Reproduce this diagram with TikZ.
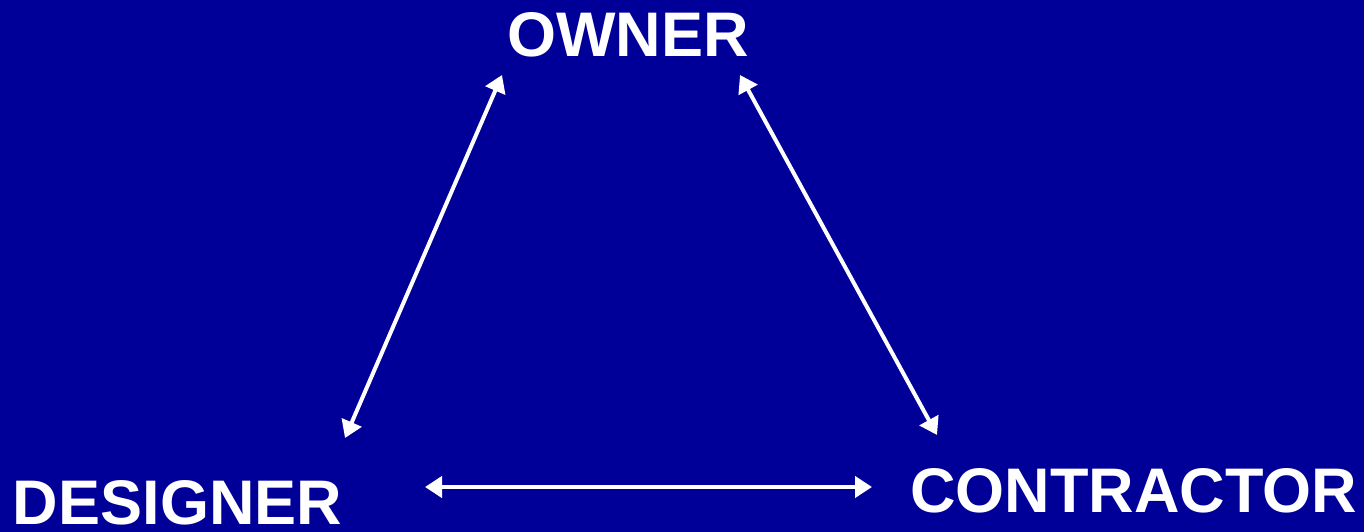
\documentclass[tikz,border=0pt]{standalone}
\usepackage{fontspec}
\setmainfont{Liberation Sans}
\usetikzlibrary{arrows.meta}
\definecolor{slideblue}{RGB}{0,0,153}

\begin{document}
\begin{tikzpicture}[x=1pt,y=-1pt,
  party/.style={white,font=\bfseries\fontsize{63}{63}\selectfont,
    inner sep=0pt,anchor=base},
  link/.style={white,line width=4pt,
    {Triangle[length=17pt,width=21pt]}-{Triangle[length=17pt,width=21pt]}}]
  % slide background, fixes the page size
  \fill[slideblue] (0,0) rectangle (1364,532);
  \useasboundingbox (0,0) rectangle (1364,532);

  \node[party] (owner) at (628,57) {OWNER};
  \node[party] (designer) at (177.5,524) {DESIGNER};
  \node[party] (contractor) at (1133.5,512) {CONTRACTOR};

  % arrow ends, kept clear of the labels
  \coordinate (owner-l) at (502,75);
  \coordinate (owner-r) at (740,75);
  \coordinate (designer-t) at (345,438);
  \coordinate (designer-r) at (425,487);
  \coordinate (contractor-t) at (937,435);
  \coordinate (contractor-l) at (872,487);

  \draw[link] (designer-t) -- (owner-l);
  \draw[link] (owner-r) -- (contractor-t);
  \draw[link] (designer-r) -- (contractor-l);
\end{tikzpicture}
\end{document}
